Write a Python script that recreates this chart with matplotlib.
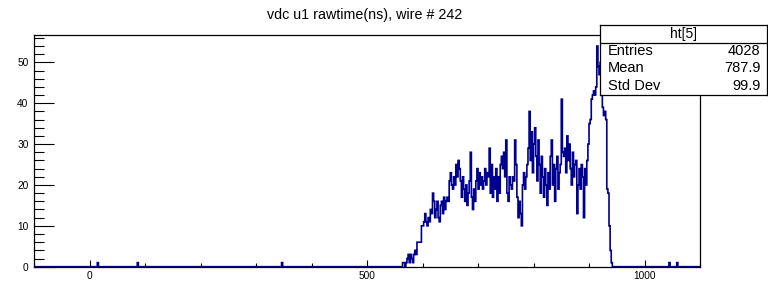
import numpy as np
import matplotlib.pyplot as plt
from matplotlib.ticker import MultipleLocator

plt.rcParams['font.family'] = ['Liberation Sans', 'DejaVu Sans']

# Гістограма: межі та ширина біна (нс)
x_min, x_max, bin_w = -100, 1100, 2

# Основний пік: значення бінів починаючи з 564 нс
main_start = 564
main_counts = [
    1, 1, 0, 1, 2, 3, 1, 3, 2, 1,
    3, 4, 3, 6, 6, 6, 6, 10, 10, 11,
    13, 11, 10, 12, 11, 14, 13, 18, 16, 12,
    14, 16, 12, 11, 15, 16, 13, 17, 14, 16,
    17, 16, 21, 23, 20, 19, 22, 20, 25, 22,
    26, 24, 21, 17, 22, 19, 16, 20, 15, 18,
    21, 28, 17, 14, 19, 16, 21, 24, 19, 23,
    20, 22, 19, 21, 24, 20, 23, 22, 29, 18,
    25, 17, 22, 19, 24, 16, 22, 18, 25, 27,
    24, 28, 22, 31, 18, 16, 22, 20, 19, 22,
    21, 31, 25, 17, 12, 16, 13, 10, 20, 23,
    19, 22, 25, 29, 38, 26, 33, 23, 30, 34,
    27, 21, 31, 25, 18, 27, 22, 17, 24, 20,
    15, 23, 19, 27, 31, 20, 25, 16, 24, 27,
    19, 23, 25, 41, 28, 27, 29, 23, 32, 26,
    30, 24, 20, 28, 22, 25, 26, 13, 20, 24,
    19, 25, 22, 12, 24, 20, 26, 30, 35, 36,
    41, 42, 43, 42, 44, 54, 49, 47, 50, 46,
    39, 37, 38, 36, 19, 18, 10, 4, 1,
]

# Поодинокі події поза піком (нс)
isolated_times = [15, 87, 346, 1044, 1058]

title = 'vdc u1 rawtime(ns), wire # 242'
stats_name = 'ht[5]'
stats_labels = ['Entries', 'Mean', 'Std Dev']
stats_values = ['4028', '787.9', '99.9']

edges = np.arange(x_min, x_max + bin_w, bin_w)
counts = np.zeros(len(edges) - 1)
i0 = (main_start - x_min) // bin_w
counts[i0:i0 + len(main_counts)] = main_counts
for t in isolated_times:
    counts[int((t - x_min) // bin_w)] += 1

fig = plt.figure(figsize=(7.68, 2.81), dpi=100)
ax = fig.add_axes([0.0443, 0.0509, 0.8672, 0.8245])
ax.stairs(counts, edges, color='#000090', linewidth=1.2)

ax.set_xlim(x_min, x_max)
ax.set_ylim(0, 1.05 * max(main_counts))
ax.xaxis.set_major_locator(MultipleLocator(500))
ax.xaxis.set_minor_locator(MultipleLocator(100))
ax.yaxis.set_major_locator(MultipleLocator(10))
ax.yaxis.set_minor_locator(MultipleLocator(2))
ax.tick_params(axis='both', which='both', direction='in', top=False, right=False,
               labelsize=7.3, width=0.8)
ax.tick_params(axis='y', which='major', length=14.4, pad=4)
ax.tick_params(axis='y', which='minor', length=7.2)
ax.tick_params(axis='x', which='major', length=5, pad=3)
ax.tick_params(axis='x', which='minor', length=2.9)
for s in ax.spines.values():
    s.set_linewidth(0.9)

fig.text(0.475, 0.947, title, ha='center', va='center', fontsize=10.3)

# Статистична панель
box = [0.78125, 0.662, 0.2175, 0.249]
sax = fig.add_axes(box)
sax.set_xlim(0, 1)
sax.set_ylim(0, 1)
sax.set_xticks([])
sax.set_yticks([])
sax.set_facecolor('white')
for s in sax.spines.values():
    s.set_linewidth(0.9)
div = 1 - (42.7 - 25) / 70
sax.axhline(div, color='black', linewidth=0.9)
sax.text(0.5, (1 + div) / 2, stats_name, ha='center', va='center', fontsize=10)
row_y = [1 - (50.7 - 25) / 70, 1 - (68.3 - 25) / 70, 1 - (86 - 25) / 70]
for lab, val, yy in zip(stats_labels, stats_values, row_y):
    sax.text(0.045, yy, lab, ha='left', va='center', fontsize=10.5)
    sax.text(0.96, yy, val, ha='right', va='center', fontsize=10.5)

fig.savefig('out.png', dpi=100)
